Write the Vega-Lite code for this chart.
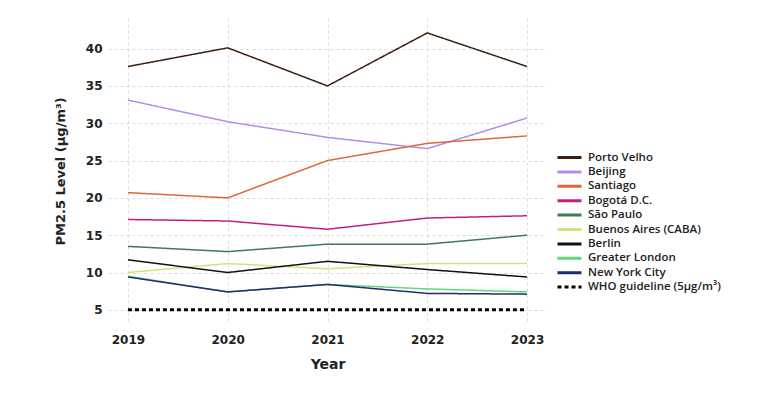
{
  "$schema": "https://vega.github.io/schema/vega-lite/v6.json",
  "autosize": "none",
  "width": 439,
  "height": 306,
  "padding": {"left": 108, "top": 18, "right": 222, "bottom": 73},
  "background": "white",
  "config": {
    "view": {"stroke": null},
    "font": "Open Sans",
    "axis": {"domain": false, "ticks": false, "gridColor": "#dcdcdc", "gridDash": [3, 3], "gridWidth": 1, "labelFont": "DejaVu Sans", "labelFontWeight": "bold", "labelFontSize": 12, "labelColor": "#222", "titleFont": "DejaVu Sans", "titleFontWeight": "bold", "titleColor": "#222"}
  },
  "data": {"values": [
    {"city": "Porto Velho", "year": 2019, "pm": 37.6},
    {"city": "Porto Velho", "year": 2020, "pm": 40.1},
    {"city": "Porto Velho", "year": 2021, "pm": 35.0},
    {"city": "Porto Velho", "year": 2022, "pm": 42.1},
    {"city": "Porto Velho", "year": 2023, "pm": 37.6},
    {"city": "Beijing", "year": 2019, "pm": 33.1},
    {"city": "Beijing", "year": 2020, "pm": 30.2},
    {"city": "Beijing", "year": 2021, "pm": 28.1},
    {"city": "Beijing", "year": 2022, "pm": 26.6},
    {"city": "Beijing", "year": 2023, "pm": 30.7},
    {"city": "Santiago", "year": 2019, "pm": 20.7},
    {"city": "Santiago", "year": 2020, "pm": 20.0},
    {"city": "Santiago", "year": 2021, "pm": 25.0},
    {"city": "Santiago", "year": 2022, "pm": 27.3},
    {"city": "Santiago", "year": 2023, "pm": 28.3},
    {"city": "Bogotá D.C.", "year": 2019, "pm": 17.1},
    {"city": "Bogotá D.C.", "year": 2020, "pm": 16.9},
    {"city": "Bogotá D.C.", "year": 2021, "pm": 15.8},
    {"city": "Bogotá D.C.", "year": 2022, "pm": 17.3},
    {"city": "Bogotá D.C.", "year": 2023, "pm": 17.6},
    {"city": "São Paulo", "year": 2019, "pm": 13.5},
    {"city": "São Paulo", "year": 2020, "pm": 12.8},
    {"city": "São Paulo", "year": 2021, "pm": 13.8},
    {"city": "São Paulo", "year": 2022, "pm": 13.8},
    {"city": "São Paulo", "year": 2023, "pm": 15.0},
    {"city": "Buenos Aires (CABA)", "year": 2019, "pm": 10.0},
    {"city": "Buenos Aires (CABA)", "year": 2020, "pm": 11.2},
    {"city": "Buenos Aires (CABA)", "year": 2021, "pm": 10.5},
    {"city": "Buenos Aires (CABA)", "year": 2022, "pm": 11.2},
    {"city": "Buenos Aires (CABA)", "year": 2023, "pm": 11.2},
    {"city": "Berlin", "year": 2019, "pm": 11.7},
    {"city": "Berlin", "year": 2020, "pm": 10.0},
    {"city": "Berlin", "year": 2021, "pm": 11.5},
    {"city": "Berlin", "year": 2022, "pm": 10.4},
    {"city": "Berlin", "year": 2023, "pm": 9.4},
    {"city": "Greater London", "year": 2019, "pm": 9.5},
    {"city": "Greater London", "year": 2020, "pm": 7.4},
    {"city": "Greater London", "year": 2021, "pm": 8.4},
    {"city": "Greater London", "year": 2022, "pm": 7.8},
    {"city": "Greater London", "year": 2023, "pm": 7.4},
    {"city": "New York City", "year": 2019, "pm": 9.4},
    {"city": "New York City", "year": 2020, "pm": 7.4},
    {"city": "New York City", "year": 2021, "pm": 8.4},
    {"city": "New York City", "year": 2022, "pm": 7.2},
    {"city": "New York City", "year": 2023, "pm": 7.1},
    {"city": "WHO guideline (5µg/m³)", "year": 2019, "pm": 5},
    {"city": "WHO guideline (5µg/m³)", "year": 2020, "pm": 5},
    {"city": "WHO guideline (5µg/m³)", "year": 2021, "pm": 5},
    {"city": "WHO guideline (5µg/m³)", "year": 2022, "pm": 5},
    {"city": "WHO guideline (5µg/m³)", "year": 2023, "pm": 5}
  ]},
  "encoding": {
    "x": {"field": "year", "type": "quantitative", "title": "Year",
      "scale": {"domain": [2018.8, 2023.2], "nice": false, "zero": false},
      "axis": {"values": [2019, 2020, 2021, 2022, 2023], "format": "d", "labelPadding": 10, "titleFontSize": 14, "titlePadding": 12, "labelFlush": false}},
    "y": {"field": "pm", "type": "quantitative", "title": "PM2.5 Level (µg/m³)",
      "scale": {"domain": [3.1, 44.1], "nice": false, "zero": false},
      "axis": {"values": [5, 10, 15, 20, 25, 30, 35, 40], "labelPadding": 6, "titleFontSize": 13, "titlePadding": 18}},
    "color": {"field": "city", "type": "nominal", "title": null,
      "scale": {
        "domain": ["Porto Velho", "Beijing", "Santiago", "Bogotá D.C.", "São Paulo", "Buenos Aires (CABA)", "Berlin", "Greater London", "New York City", "WHO guideline (5µg/m³)"],
        "range": ["#3a1e12", "#b58be8", "#e0663a", "#c21f86", "#3d7a55", "#d6e07c", "#111111", "#5fd97a", "#232a6e", "#000000"]},
      "legend": {"orient": "none", "legendX": 454, "legendY": 132, "symbolType": "M-2,0H2", "symbolSize": 144, "symbolStrokeWidth": 3, "labelFont": "Open Sans", "labelFontSize": 11.5, "labelFontWeight": 600, "labelColor": "#222", "rowPadding": 0.4, "labelOffset": 11, "labelLimit": 300,
        "encode": {"symbols": {"update": {"strokeWidth": {"value": 3}}}}}},
    "strokeDash": {"field": "city", "type": "nominal", "title": null,
      "scale": {
        "domain": ["Porto Velho", "Beijing", "Santiago", "Bogotá D.C.", "São Paulo", "Buenos Aires (CABA)", "Berlin", "Greater London", "New York City", "WHO guideline (5µg/m³)"],
        "range": [[1, 0], [1, 0], [1, 0], [1, 0], [1, 0], [1, 0], [1, 0], [1, 0], [1, 0], [4, 3]]}}
  },
  "layer": [
    {"transform": [{"filter": "datum.city !== 'WHO guideline (5µg/m³)'"}],
     "mark": {"type": "line", "strokeCap": "butt", "strokeWidth": 1.5}},
    {"transform": [{"filter": "datum.city === 'WHO guideline (5µg/m³)'"}],
     "mark": {"type": "line", "strokeCap": "butt", "strokeWidth": 3}}
  ]
}
